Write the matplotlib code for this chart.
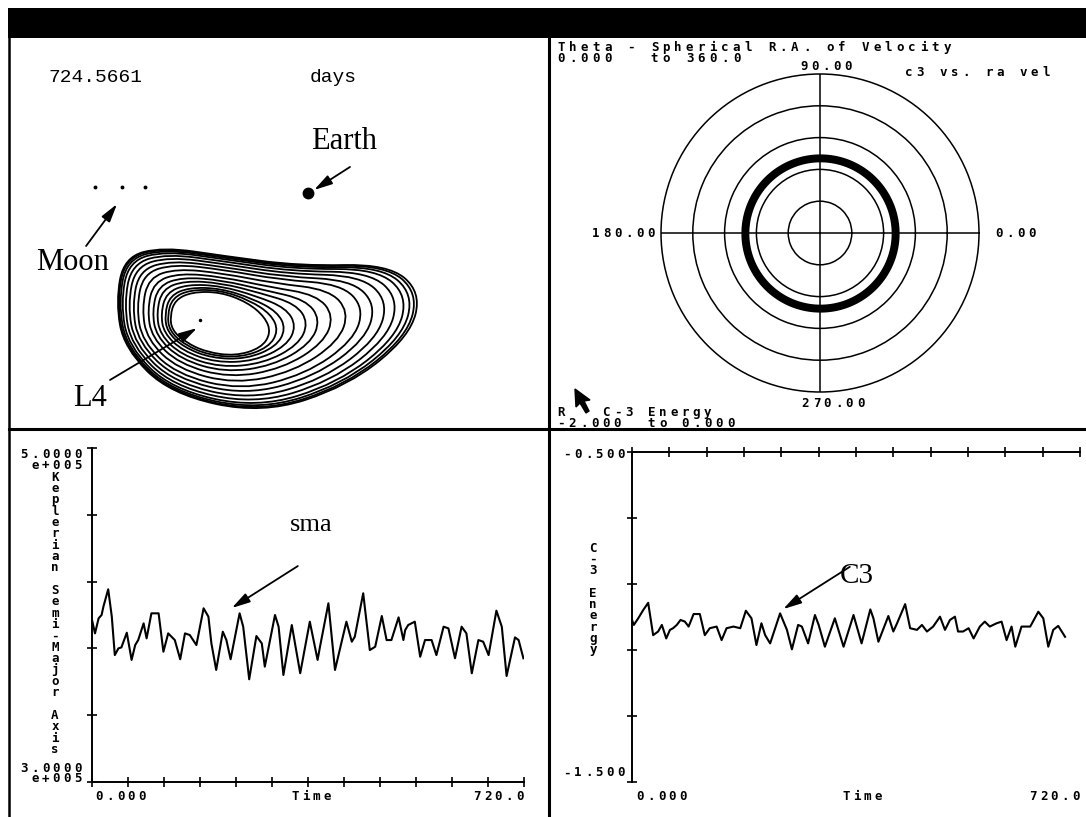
import numpy as np
import matplotlib.pyplot as plt
from matplotlib.path import Path
from matplotlib.patches import PathPatch, Rectangle, Polygon

W, H = 1086, 817

# L4 orbit in the rotating frame (Earth-Moon distances, Earth at origin)
earth_xy = (0.0, 0.0)
moon_x = [-1.121, -0.979, -0.858]
moon_y = [0.032, 0.032, 0.032]
l4_xy = (-0.568, -0.668)
outer_x = [-1.011, -0.968, -0.763, -0.437, -0.042, 0.421, 0.595, 0.537, 0.211, -0.242, -0.726, -0.968]
outer_y = [-0.574, -0.337, -0.284, -0.332, -0.384, -0.374, -0.521, -0.753, -1.016, -1.163, -1.058, -0.816]
inner_x = [-0.726, -0.700, -0.611, -0.463, -0.321, -0.226, -0.195, -0.247, -0.384, -0.537, -0.647, -0.716]
inner_y = [-0.647, -0.563, -0.521, -0.521, -0.574, -0.653, -0.737, -0.816, -0.858, -0.837, -0.784, -0.721]
loop_levels = [0.0, 0.05, 0.1, 0.17, 0.25, 0.33, 0.42, 0.52, 0.62, 0.7, 0.78, 0.85, 0.91, 0.95, 0.98, 1.0]

# Keplerian semi-major axis (km) against time (days)
sma_t = [0, 5, 11, 16, 19, 27, 33, 38, 44, 49, 58, 66, 72, 77, 86, 91, 99, 111, 119, 127,
         138, 147, 155, 163, 174, 186, 194, 199, 207, 218, 224, 231, 246, 252, 262, 274, 283, 288, 305, 311,
         319, 333, 347, 363, 376, 380, 394, 405, 424, 433, 438, 452, 463, 472, 483, 491, 499, 511, 519, 522,
         527, 538, 547, 555, 566, 574, 586, 594, 605, 616, 624, 633, 644, 652, 661, 674, 683, 691, 705, 711, 719]
sma_km = [397000, 389000, 398000, 400000, 405000, 415400, 399000, 376000, 380000, 380600,
          389400, 373100, 382000, 385000, 395000, 386000, 401000, 401000, 378000, 389000,
          385000, 373500, 389000, 388000, 382000, 404000, 399000, 383000, 367100, 390000,
          385000, 373500, 401000, 393000, 361500, 387400, 383000, 369100, 400000, 393000,
          364100, 394000, 365100, 396000, 373100, 381000, 407000, 367100, 396000, 384000,
          387000, 413000, 379000, 381000, 399400, 385000, 385000, 398600, 385000, 391000,
          394000, 396000, 375000, 385000, 385000, 376000, 393000, 392000, 374100, 393000,
          389000, 365100, 385000, 384000, 376000, 402600, 393000, 363500, 386600, 385000, 374100]

# C-3 energy against time (days)
c3_t = [0, 3, 10, 18, 26, 34, 42, 48, 55, 61, 66, 72, 78, 85, 91, 99, 109, 117, 125, 136,
        144, 152, 163, 174, 183, 192, 200, 208, 214, 222, 238, 249, 257, 267, 273, 283, 294, 300, 310, 326,
        340, 356, 369, 383, 388, 396, 412, 420, 426, 439, 447, 458, 466, 474, 484, 495, 503, 511, 519, 524,
        532, 541, 549, 559, 567, 575, 586, 594, 602, 610, 616, 626, 640, 653, 661, 669, 677, 685, 696]
c3_val = [-1.009, -1.024, -1.004, -0.979, -0.957, -1.055, -1.044, -1.024, -1.065, -1.039,
          -1.034, -1.024, -1.009, -1.014, -1.029, -0.991, -0.991, -1.055, -1.034, -1.029,
          -1.070, -1.034, -1.029, -1.034, -0.981, -1.004, -1.085, -1.019, -1.055, -1.080,
          -0.989, -1.039, -1.098, -1.024, -1.029, -1.080, -0.994, -1.024, -1.090, -1.004,
          -1.090, -0.994, -1.080, -0.977, -1.004, -1.075, -0.997, -1.044, -1.019, -0.961,
          -1.034, -1.039, -1.024, -1.044, -1.029, -0.999, -1.039, -1.009, -0.999, -1.044,
          -1.044, -1.034, -1.065, -1.029, -1.014, -1.029, -1.019, -1.014, -1.070, -1.029,
          -1.090, -1.029, -1.029, -0.984, -1.004, -1.090, -1.039, -1.027, -1.060]

# polar view: C-3 (radius, -2 .. 0) against R.A. of velocity
ring_c3 = [-1.105, -1.005]
polar_rings = [-1.6, -1.2, -0.8, -0.4]
polar_angles = [0, 90, 180, 270]
polar_labels = ['0.00', '90.00', '180.00', '270.00']


def box(left, top, right, bottom):
    return [left / W, 1 - bottom / H, (right - left) / W, (bottom - top) / H]


def closed_curve(xs, ys):
    pts = np.column_stack([xs, ys])
    mids = (pts + np.roll(pts, -1, axis=0)) / 2
    verts = [mids[-1]]
    codes = [Path.MOVETO]
    for p, m in zip(pts, mids):
        verts += [p, m]
        codes += [Path.CURVE3, Path.CURVE3]
    return Path(verts, codes)


def arrow(ax, tail, tip):
    ax.annotate('', xy=tip, xytext=tail,
                arrowprops=dict(arrowstyle='-|>,head_length=1.1,head_width=0.3',
                                lw=1.3, color='black', shrinkA=0, shrinkB=0))


fig = plt.figure(figsize=(W / 100, H / 100), dpi=100)

# orbit panel
ax0 = fig.add_axes(box(10, 38, 548, 429))
ax0.set_xlim((10 - 308) / 190, (548 - 308) / 190)
ax0.set_ylim((193 - 429) / 190, (193 - 38) / 190)
ax0.axis('off')
ox, oy = np.array(outer_x), np.array(outer_y)
ix, iy = np.array(inner_x), np.array(inner_y)
for f in loop_levels:
    ax0.add_patch(PathPatch(closed_curve(ix + f * (ox - ix), iy + f * (oy - iy)),
                            fill=False, lw=1.3, ec='black'))
ax0.plot(*earth_xy, 'o', ms=7.5, color='black')
ax0.plot(moon_x, moon_y, 'o', ms=1.8, color='black', ls='none')
ax0.plot(*l4_xy, 'o', ms=1.5, color='black')
arrow(ax0, (0.221, 0.137), (0.032, 0.016))
arrow(ax0, (-1.168, -0.279), (-1.005, -0.058))
arrow(ax0, (-1.042, -0.984), (-0.584, -0.711))

# polar panel
pax = fig.add_axes(box(661, 74, 979, 392), projection='polar')
pax.set_ylim(-2, 0)
pax.set_xticks(np.deg2rad(polar_angles))
pax.set_xticklabels([])
pax.set_yticks(polar_rings)
pax.set_yticklabels([])
pax.grid(True, color='black', lw=1.1, ls='-')
pax.spines['polar'].set_linewidth(1.1)
theta = np.linspace(0, 2 * np.pi, 361)
pax.fill_between(theta, ring_c3[0], ring_c3[1], color='black', lw=0)

# semi-major axis panel
ax1 = fig.add_axes(box(92, 448, 524, 782))
ax1.plot(sma_t, sma_km, color='black', lw=1.5)
ax1.set_xlim(0, 720)
ax1.set_ylim(3e5, 5e5)
ax1.set_xticks(np.arange(0, 721, 60))
ax1.set_yticks(np.arange(3e5, 5e5 + 1, 4e4))
for s in ['top', 'right']:
    ax1.spines[s].set_visible(False)
for s in ['left', 'bottom']:
    ax1.spines[s].set_linewidth(1.4)
ax1.tick_params(direction='inout', length=7, width=1.2, labelleft=False, labelbottom=False)
ax1.patch.set_alpha(0)
arrow(ax1, (343, 429300), (233, 404200))

# C-3 energy panel
ax2 = fig.add_axes(box(632, 452, 1080, 782))
ax2.plot(c3_t, c3_val, color='black', lw=1.5)
ax2.set_xlim(0, 720)
ax2.set_ylim(-1.5, -0.5)
ax2.set_xticks(np.arange(0, 721, 60))
ax2.set_yticks(np.arange(-1.5, -0.49, 0.2))
for s in ['bottom', 'right']:
    ax2.spines[s].set_visible(False)
for s in ['left', 'top']:
    ax2.spines[s].set_linewidth(1.4)
ax2.xaxis.tick_top()
ax2.tick_params(direction='inout', length=7, width=1.2, labelleft=False, labeltop=False)
ax2.patch.set_alpha(0)
arrow(ax2, (350, -0.848), (243, -0.976))

# screen frame, headers and labels in pixel coordinates
ov = fig.add_axes([0, 0, 1, 1], zorder=5)
ov.set_xlim(0, W)
ov.set_ylim(H, 0)
ov.axis('off')
ov.patch.set_alpha(0)

ov.add_patch(Rectangle((8, 8), W - 8, 30, color='black', lw=0))
ov.plot([9, 9], [38, H], color='black', lw=1.8)
ov.plot([549, 549], [38, H], color='black', lw=2.2)
ov.plot([9, W], [429, 429], color='black', lw=2.2)


def screen(x, y, s, pitch=11.3, align='left'):
    if align == 'right':
        x -= (len(s) - 1) * pitch
    elif align == 'center':
        x -= (len(s) - 1) * pitch / 2
    for i, ch in enumerate(s):
        if ch != ' ':
            ov.text(x + i * pitch, y, ch, ha='center', va='center', fontsize=9,
                    family='DejaVu Sans Mono', weight='bold')


def screen_vertical(x, y, s, pitch):
    for i, ch in enumerate(s):
        if ch != ' ':
            ov.text(x, y + i * pitch, ch, ha='center', va='center', fontsize=9,
                    family='DejaVu Sans Mono', weight='bold')


serif = dict(family='Liberation Serif', ha='center', va='center')
mono = dict(family='Liberation Mono', fontsize=14, va='center')

ov.text(48, 77, '724.5661', **mono)
ov.text(310, 77, 'days', **mono)
ov.text(344, 141, 'Earth', fontsize=22, **serif)
ov.text(73, 263, 'Moon', fontsize=22, **serif)
ov.text(90, 398, 'L4', fontsize=22, **serif)
ov.text(311, 525, 'sma', fontsize=19, **serif)
ov.text(857, 576, 'C3', fontsize=21, **serif)

screen(561, 47, 'Theta - Spherical R.A. of Velocity', pitch=11.7)
screen(561, 58, '0.000   to 360.0', pitch=11.7)
screen(909, 72, 'c3 vs. ra vel', pitch=11.4)
screen(826, 66, polar_labels[1], pitch=11, align='center')
screen(999, 233, polar_labels[0], pitch=11)
screen(596, 233, polar_labels[2], pitch=11)
screen(833, 403, polar_labels[3], pitch=11, align='center')
screen(561, 412, 'R   C-3 Energy')
screen(561, 423, '-2.000  to 0.000')
ov.add_patch(Polygon([(575, 389), (576, 407), (580, 403), (586, 413), (589, 411),
                      (584, 401), (590, 400)], closed=True, color='black'))

screen(78, 454, '5.0000', pitch=10.8, align='right')
screen(78, 465, 'e+005', pitch=10.8, align='right')
screen(78, 768, '3.0000', pitch=10.8, align='right')
screen(78, 779, 'e+005', pitch=10.8, align='right')
screen_vertical(55, 477, 'Keplerian Semi-Major Axis', 11.35)
screen(99, 797, '0.000', pitch=10.8)
screen(311, 797, 'Time', pitch=10.8, align='center')
screen(520, 797, '720.0', pitch=10.8, align='right')

screen(621, 454, '-0.500', pitch=10.8, align='right')
screen(621, 773, '-1.500', pitch=10.8, align='right')
screen_vertical(593, 548, 'C-3 Energy', 11.3)
screen(640, 797, '0.000', pitch=10.8)
screen(862, 797, 'Time', pitch=10.8, align='center')
screen(1076, 797, '720.0', pitch=10.8, align='right')

fig.savefig('out.png', dpi=100)
